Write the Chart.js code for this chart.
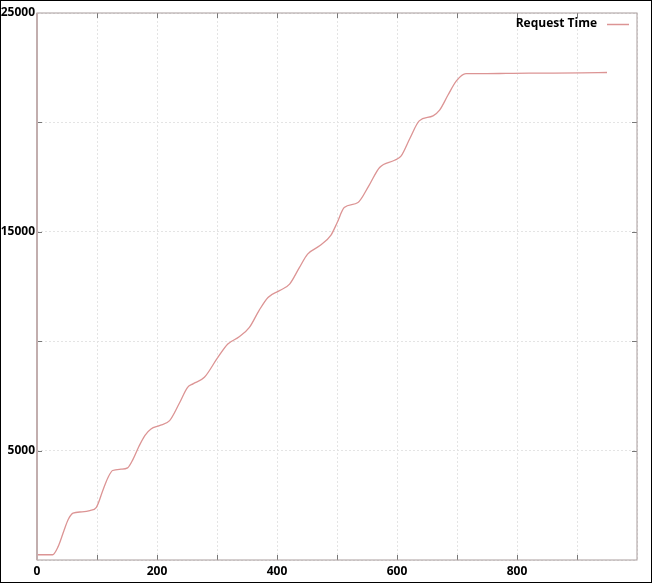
<!DOCTYPE html>
<html>
<head>
<meta charset="utf-8">
<script src="https://cdn.jsdelivr.net/npm/chart.js@4.4.1/dist/chart.umd.min.js"></script>
<style>
    html, body { margin: 0; padding: 0; background: #fff; }
    #wrap {
        width: 652px; height: 583px; box-sizing: border-box;
        border: 1px solid #000; position: relative;
    }
    #wrap canvas { display: block; }
</style>
</head>
<body>
<div id="wrap"><canvas id="reqChart" width="650" height="581"></canvas></div>
<script>
// данные: номер запроса -> время
const requestIndex = [0, 26, 35, 45, 52, 60, 75, 88, 99, 110, 118, 126, 140, 151, 160, 170, 180, 190,
    204, 221, 237, 251, 260, 279, 300, 318, 337, 354, 370, 385, 404, 421, 437, 451, 471, 490,
    500, 512, 535, 553, 571, 596, 607, 622, 637, 660, 671, 685, 699, 715, 750, 782, 820, 860, 907, 950];
const requestTime = [240, 240, 600, 1350, 1850, 2140, 2200, 2260, 2410, 3200, 3750, 4090, 4150, 4210,
    4600, 5200, 5700, 5990, 6140, 6370, 7150, 7890, 8050, 8350, 9200, 9870, 10200, 10630, 11400,
    12000, 12310, 12610, 13350, 13980, 14360, 14850, 15400, 16110, 16340, 17100, 17940, 18270,
    18470, 19300, 20070, 20300, 20560, 21250, 21900, 22230, 22230, 22240, 22250, 22250, 22260, 22280];
const xLabels = [0, 200, 400, 600, 800];
const yLabels = [5000, 15000, 25000];
const seriesName = 'Request Time';

const points = requestIndex.map((x, i) => ({ x, y: requestTime[i] }));
const fontCss = "bold 12px 'Open Sans', sans-serif";

// рамка графика и засечки внутрь, как в gnuplot
const frame = {
    id: 'frame',
    afterDraw(chart) {
        const { ctx, chartArea: a, scales } = chart;
        ctx.save();
        ctx.strokeStyle = '#777';
        ctx.lineWidth = 1;
        ctx.beginPath();
        for (let v = 100; v < 1000; v += 100) {
            const px = Math.round(scales.x.getPixelForValue(v)) + 0.5;
            ctx.moveTo(px, a.bottom); ctx.lineTo(px, a.bottom - 5);
            ctx.moveTo(px, a.top); ctx.lineTo(px, a.top + 5);
        }
        for (let v = 5000; v < 25000; v += 5000) {
            const py = Math.round(scales.y.getPixelForValue(v)) + 0.5;
            ctx.moveTo(a.left, py); ctx.lineTo(a.left + 5, py);
            ctx.moveTo(a.right, py); ctx.lineTo(a.right - 5, py);
        }
        ctx.stroke();
        ctx.strokeStyle = '#a89c9c';
        ctx.strokeRect(a.left, a.top, a.right - a.left, a.bottom - a.top);
        ctx.strokeStyle = '#c2aeae';
        ctx.lineWidth = 2;
        ctx.beginPath();
        ctx.moveTo(a.left, a.top); ctx.lineTo(a.left, a.bottom);
        ctx.stroke();

        // легенда: текст, затем образец линии справа
        const ds = chart.data.datasets[0];
        const ly = a.top + 11;
        const lineEnd = a.right - 8;
        const lineStart = lineEnd - 22;
        ctx.font = fontCss;
        ctx.fillStyle = '#000';
        ctx.textAlign = 'right';
        ctx.textBaseline = 'middle';
        ctx.fillText(ds.label, lineStart - 10, ly);
        ctx.strokeStyle = ds.borderColor;
        ctx.lineWidth = 1.5;
        ctx.beginPath();
        ctx.moveTo(lineStart, ly + 0.5); ctx.lineTo(lineEnd, ly + 0.5);
        ctx.stroke();
        ctx.restore();
    }
};

const font = { family: "'Open Sans', sans-serif", size: 12, weight: 'bold' };

new Chart(document.getElementById('reqChart').getContext('2d'), {
    type: 'scatter',
    data: {
        datasets: [{
            label: seriesName,
            data: points,
            showLine: true,
            borderColor: '#dc9494',
            backgroundColor: '#dc9494',
            borderWidth: 1.3,
            pointRadius: 0,
            cubicInterpolationMode: 'monotone'
        }]
    },
    options: {
        responsive: false,
        animation: false,
        layout: { padding: { top: 12, right: 14, left: 0, bottom: 0 } },
        plugins: {
            tooltip: { enabled: false },
            legend: { display: false }
        },
        scales: {
            x: {
                type: 'linear',
                min: 0, max: 1000,
                border: { display: false, dash: [2, 2] },
                grid: { color: '#e4e4e4', drawTicks: false },
                ticks: {
                    stepSize: 100,
                    padding: 4,
                    color: '#000',
                    font,
                    maxRotation: 0,
                    autoSkip: false,
                    callback: v => xLabels.includes(v) ? String(v) : ''
                },
                afterFit: s => { s.height = 22; }
            },
            y: {
                min: 0, max: 25000,
                border: { display: false, dash: [2, 2] },
                grid: { color: '#e4e4e4', drawTicks: false },
                ticks: {
                    stepSize: 5000,
                    padding: 2,
                    color: '#000',
                    font,
                    autoSkip: false,
                    callback: v => yLabels.includes(v) ? String(v) : ''
                },
                afterFit: s => { s.width = 36; }
            }
        }
    },
    plugins: [frame]
});
</script>
</body>
</html>
